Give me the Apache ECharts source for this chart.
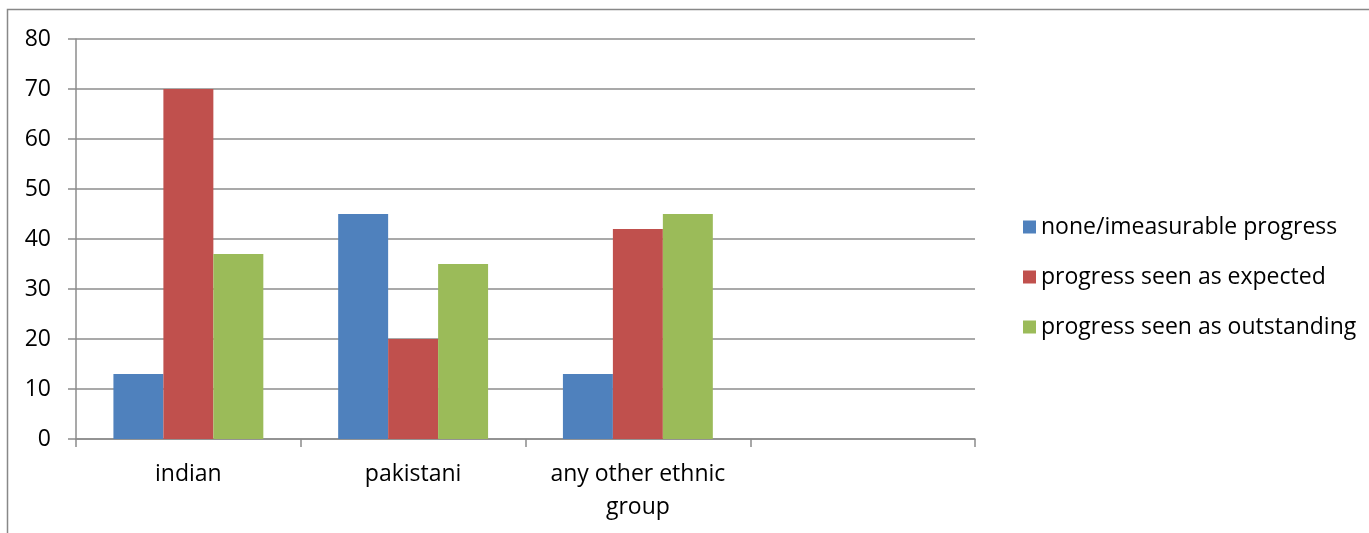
<!DOCTYPE html>
<html>
<head>
<meta charset="utf-8">
<script src="https://cdn.jsdelivr.net/npm/echarts@6/dist/echarts.min.js"></script>
<style>
  html, body { margin: 0; padding: 0; background: #fff; }
  #chart { width: 1369px; height: 533px; }
</style>
</head>
<body>
<div id="chart"></div>
<script>
// Progress by ethnic group
var categories = ['indian', 'pakistani', 'any other ethnic\ngroup', ''];
var seriesNames = ['none/imeasurable progress', 'progress seen as expected', 'progress seen as outstanding'];
var noneProgress = [13, 45, 13, null];
var expectedProgress = [70, 20, 42, null];
var outstandingProgress = [37, 35, 45, null];
var yTicks = [0, 10, 20, 30, 40, 50, 60, 70, 80];

var colors = ['#4F81BD', '#C0504D', '#9BBB59'];
var font = '"Open Sans", "Noto Sans", sans-serif';
var axisGray = '#8C8C8C';

var chart = echarts.init(document.getElementById('chart'), null, { renderer: 'canvas' });

function bar(name, data, color) {
  return {
    name: name,
    type: 'bar',
    data: data,
    barGap: '0%',
    barCategoryGap: '33.3%',
    itemStyle: { color: color },
    emphasis: { disabled: true }
  };
}

chart.setOption({
  animation: false,
  color: colors,
  graphic: [{
    type: 'rect',
    shape: { x: 7.5, y: 9.5, width: 1380, height: 540 },
    style: { fill: 'none', stroke: '#888', lineWidth: 1.5 },
    silent: true
  }],
  grid: { left: 76, top: 39, width: 899, height: 400, containLabel: false },
  legend: {
    orient: 'vertical',
    left: 1018,
    top: 209,
    icon: 'rect',
    itemWidth: 13,
    itemHeight: 13,
    itemGap: 24,
    textStyle: { fontFamily: font, fontSize: 23, lineHeight: 26, color: '#000', padding: [0, 0, 0, 0] },
    data: seriesNames
  },
  xAxis: {
    type: 'category',
    data: categories,
    axisLine: { lineStyle: { color: axisGray, width: 1.5 } },
    axisTick: { show: true, alignWithLabel: false, length: 8, lineStyle: { color: axisGray, width: 1.5 } },
    axisLabel: { fontFamily: font, fontSize: 23, color: '#000', margin: 19, lineHeight: 33, interval: 0 },
    splitLine: { show: false }
  },
  yAxis: {
    type: 'value',
    min: yTicks[0],
    max: yTicks[yTicks.length - 1],
    interval: yTicks[1] - yTicks[0],
    axisLine: { show: true, lineStyle: { color: axisGray, width: 1.5 } },
    axisTick: { show: true, length: 8, lineStyle: { color: axisGray, width: 1.5 } },
    axisLabel: { fontFamily: font, fontSize: 23, color: '#000', margin: 25 },
    splitLine: { lineStyle: { color: axisGray, width: 1.5 } }
  },
  series: [
    bar(seriesNames[0], noneProgress, colors[0]),
    bar(seriesNames[1], expectedProgress, colors[1]),
    bar(seriesNames[2], outstandingProgress, colors[2])
  ]
});
</script>
</body>
</html>
